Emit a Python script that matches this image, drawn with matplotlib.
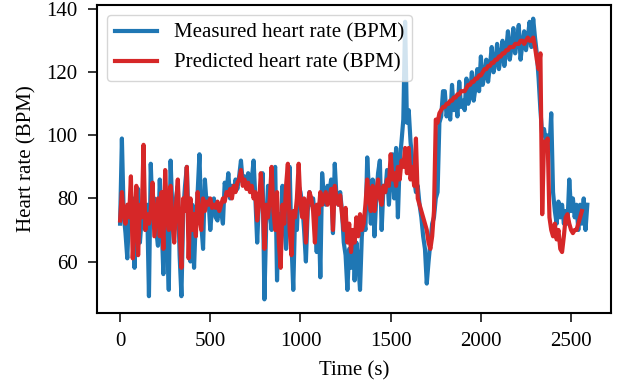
import numpy as np
import matplotlib
matplotlib.use('Agg')
import matplotlib.pyplot as plt

# sampling period of both series (s)
sample_period = 10

# measured heart rate (BPM), one value every 10 s, 10 values per row
measured_hr = [
    72, 99, 75, 69, 61, 76, 73, 80, 58, 77,
    83, 66, 74, 79, 70, 78, 49, 91, 75, 80,
    70, 65, 86, 72, 56, 82, 68, 51, 92, 76,
    70, 80, 84, 62, 49, 76, 84, 90, 71, 60,
    78, 58, 74, 82, 94, 72, 64, 86, 78, 80,
    70, 77, 80, 74, 73, 78, 76, 72, 85, 82,
    88, 80, 84, 82, 86, 83, 87, 92, 85, 87,
    84, 88, 83, 86, 92, 80, 66, 80, 78, 88,
    48, 72, 84, 76, 70, 88, 90, 54, 75, 66,
    84, 72, 64, 82, 90, 66, 51, 75, 70, 84,
    82, 78, 70, 60, 76, 82, 78, 80, 74, 63,
    78, 55, 88, 80, 78, 84, 82, 86, 69, 91,
    80, 78, 82, 76, 66, 62, 51, 64, 58, 70,
    54, 66, 60, 51, 68, 74, 70, 93, 82, 72,
    86, 68, 80, 88, 92, 70, 84, 82, 89, 78,
    86, 94, 80, 96, 74, 92, 98, 105, 136, 104,
    108, 98, 92, 86, 82, 84, 78, 74, 68, 64,
    53, 60, 66, 72, 74, 80, 82, 104, 106, 114,
    114, 106, 110, 105, 116, 108, 112, 106, 117, 109,
    111, 108, 118, 110, 113, 120, 111, 115, 121, 114,
    125, 116, 119, 124, 117, 122, 128, 120, 123, 129,
    121, 125, 130, 122, 127, 133, 124, 128, 134, 126,
    130, 135, 124, 129, 133, 127, 131, 136, 128, 137,
    131, 126, 118, 108, 100, 102, 98, 100, 96, 107,
    82, 76, 72, 79, 74, 78, 72, 76, 72, 86,
    76, 80, 74, 78, 70, 78, 72, 80, 70, 78,
]

# predicted heart rate (BPM), same sampling
predicted_hr = [
    73, 82, 75, 72, 78, 74, 87, 61, 72, 84,
    62, 78, 74, 97, 70, 75, 72, 76, 85, 68,
    74, 80, 68, 82, 64, 89, 74, 70, 84, 72,
    66, 78, 86, 70, 58, 80, 76, 90, 61, 80,
    70, 75, 68, 82, 74, 70, 80, 76, 79, 78,
    80, 77, 78, 77, 79, 76, 78, 80, 79, 82,
    81, 83, 80, 84, 82, 85, 86, 89, 84, 86,
    83, 85, 82, 84, 80, 82, 73, 78, 88, 80,
    64, 78, 74, 80, 90, 76, 70, 82, 66, 58,
    78, 72, 84, 91, 70, 62, 76, 74, 80, 91,
    78, 74, 80, 66, 78, 82, 80, 76, 66, 78,
    75, 82, 78, 80, 82, 78, 80, 83, 70, 84,
    80, 78, 81, 75, 70, 77, 66, 72, 63, 70,
    66, 74, 68, 75, 70, 72, 78, 86, 80, 76,
    84, 76, 82, 86, 80, 78, 84, 82, 86, 84,
    94, 86, 88, 84, 90, 86, 92, 90, 96, 88,
    96, 86, 90, 84, 99, 80, 78, 76, 74, 72,
    70, 66, 64, 68, 76, 105, 104, 107, 108, 109,
    109, 110, 110, 111, 111, 112, 112, 113, 113, 114,
    114, 114, 115, 116, 116, 117, 117, 118, 118, 119,
    119, 120, 121, 121, 122, 122, 123, 123, 124, 124,
    125, 125, 126, 126, 127, 127, 128, 128, 128, 129,
    129, 129, 130, 130, 129, 130, 131, 130, 130, 131,
    128, 124, 121, 126, 75, 98, 96, 99, 74, 70,
    68, 72, 67, 70, 64, 63, 68, 74, 75, 72,
    70, 69, 70, 70, 72, 74, 76,
]

t_measured = np.arange(len(measured_hr)) * sample_period
t_predicted = np.arange(len(predicted_hr)) * sample_period

# Times 风格字体
plt.rcParams['font.family'] = ['Liberation Serif', 'DejaVu Serif']
plt.rcParams['font.size'] = 15
plt.rcParams['axes.linewidth'] = 1.5
plt.rcParams['axes.labelpad'] = 7
plt.rcParams['xtick.major.size'] = 6.7
plt.rcParams['ytick.major.size'] = 6.7
plt.rcParams['xtick.major.width'] = 1.1
plt.rcParams['ytick.major.width'] = 1.1
plt.rcParams['xtick.major.pad'] = 7
plt.rcParams['ytick.major.pad'] = 7

fig = plt.figure(figsize=(6.22, 3.85), dpi=100)
fig.subplots_adjust(left=0.1555, right=0.9818, bottom=0.186, top=0.988)

plt.plot(t_measured, measured_hr, color='tab:blue', linewidth=3,
         label='Measured heart rate (BPM)')
plt.plot(t_predicted, predicted_hr, color='tab:red', linewidth=3,
         label='Predicted heart rate (BPM)')

plt.xlabel('Time (s)')
plt.ylabel('Heart rate (BPM)')
plt.xticks([0, 500, 1000, 1500, 2000, 2500])
plt.yticks([60, 80, 100, 120, 140])
plt.legend(loc='upper left')

plt.savefig('out.png', dpi=100)
